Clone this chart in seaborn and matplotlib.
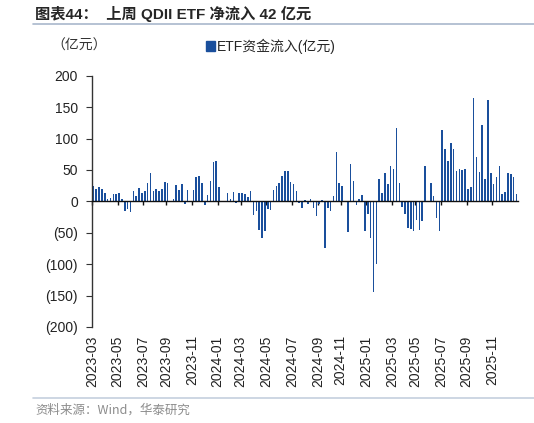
import numpy as np
import pandas as pd
import seaborn as sns
import matplotlib.pyplot as plt
from matplotlib.lines import Line2D

# weekly QDII ETF net inflow (亿元)
start_date = "2023-03-03"
last_label = "2025-11"
flows = [
    24, 20, 23, 20, 14, 3, 5, 12, 12, 13,
    3, -15, -12, -17, 17, 8, 22, 14, 17, 29,
    45, 16, 19, 16, 20, 31, 29, 0, 3, 26,
    18, 28, -4, 18, -1, 18, 39, 40, 29, -6,
    10, 33, 63, 64, 23, 0.5, 0, 14, 3, 15,
    -3, 14, 13, 11, 7, 16, -22, -15, -45, -58,
    -48, -12, -14, 18, 24, 29, 40, 48, 48, 31,
    27, 16, -3, -11, 2, -4, 4, -10, -24, -4,
    2, -75, -11, -15, 9, 78, 30, 24, 0, -49,
    60, 32, -6, 3, 10, -48, -20, -59, -145, -100,
    36, 13, 45, 27, 57, 51, 117, 30, -9, -20,
    -42, -44, -47, -30, -45, -31, 57, 0, 30, 9,
    -27, -47, 113, 83, 64, 93, 83, 49, 52, 50,
    51, 20, 23, 164, 71, 47, 122, 36, 161, 45,
    27, 38, 57, 11, 15, 45, 43, 38, 12,
]
y_ticks = [200, 150, 100, 50, 0, -50, -100, -150, -200]
y_labels = ["200", "150", "100", "50", "0", "(50)", "(100)", "(150)", "(200)"]

title = "图表44：  上周 QDII ETF 净流入 42 亿元"
unit = "（亿元）"
legend_label = "ETF资金流入(亿元)"
source = "资料来源：Wind，华泰研究"

dates = pd.date_range(start=start_date, periods=len(flows), freq="7D")
df = pd.DataFrame({"idx": np.arange(len(flows)), "date": dates, "flow": flows})

# ticks: first week of every odd month (Mar, May, ...), up to the last labelled month
first = df.groupby(df["date"].dt.to_period("M"))["idx"].min()
first = first[[p.month % 2 == 1 and p <= pd.Period(last_label, "M") for p in first.index]]
tick_pos = first.values - 0.5
tick_lab = [p.strftime("%Y-%m") for p in first.index]

sns.set_style("white")
plt.rcParams["font.family"] = ["Liberation Sans", "Noto Sans CJK SC", "DejaVu Sans"]

bar_color = "#1A4F9C"
fig = plt.figure(figsize=(5.34, 4.23), dpi=100)
ax = fig.add_axes([0.172, 0.227, 0.798, 0.594])

sns.barplot(data=df, x="idx", y="flow", native_scale=True, color=bar_color,
            width=0.55, saturation=1, linewidth=0, ax=ax)

ax.set_xlim(-0.5, len(flows) - 0.5)
ax.set_ylim(-200, 200)
ax.set_yticks(y_ticks)
ax.set_yticklabels(y_labels, fontsize=10, color="#222222")
ax.set_xlabel("")
ax.set_ylabel("")

for side in ["top", "right"]:
    ax.spines[side].set_visible(False)
ax.spines["left"].set_color("#333333")
ax.spines["left"].set_linewidth(1.0)
ax.spines["bottom"].set_position(("data", 0))
ax.spines["bottom"].set_color("#111111")
ax.spines["bottom"].set_linewidth(1.0)
ax.tick_params(axis="y", direction="out", length=4, width=0.8, color="#333333", left=True, pad=6)
ax.set_xticks(tick_pos)
ax.tick_params(axis="x", direction="out", length=3, width=1, color="#111111",
               bottom=True, labelbottom=False)

sec = ax.secondary_xaxis("bottom")
sec.set_xticks(tick_pos, tick_lab, rotation=90, fontsize=10, color="#222222")
sec.tick_params(length=0, pad=6)
sec.spines["bottom"].set_visible(False)

# header
fig.text(0.066, 0.968, title, fontsize=11, fontweight="bold", va="center", ha="left",
         family=["Liberation Sans", "Noto Sans CJK SC"])
fig.add_artist(Line2D([0.062, 1.0], [0.944, 0.944], color="#A9B8CC", lw=1.2))
fig.text(0.097, 0.891, unit, fontsize=10, va="center", ha="left", color="#333333",
         family=["Noto Sans CJK SC"])
handle = plt.Rectangle((0, 0), 1, 1, color=bar_color)
fig.legend([handle], [legend_label], loc="center left", bbox_to_anchor=(0.385, 0.891),
           frameon=False, fontsize=10, handlelength=0.7, handleheight=0.7,
           handletextpad=0.1, borderpad=0, borderaxespad=0)

# footer
fig.add_artist(Line2D([0.062, 1.0], [0.059, 0.059], color="#C5D0DE", lw=1.2))
fig.text(0.066, 0.030, source, fontsize=9, va="center", ha="left", color="#8C8C8C",
         family=["Noto Sans CJK SC"])

fig.savefig("out.png", dpi=100)
